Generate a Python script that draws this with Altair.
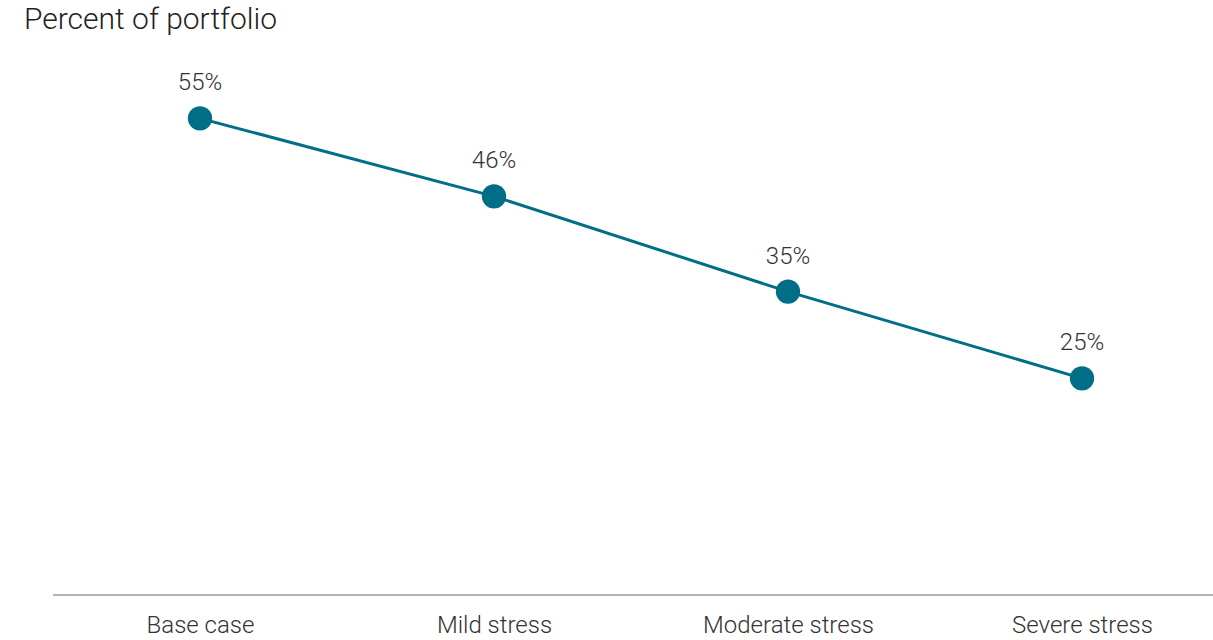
import altair as alt
import pandas as pd

# Share of portfolio under each stress scenario
scenarios = ["Base case", "Mild stress", "Moderate stress", "Severe stress"]
shares = [55, 46, 35, 25]
labels = ["55%", "46%", "35%", "25%"]

df = pd.DataFrame({"scenario": scenarios, "share": shares, "label": labels})

LINE_COLOR = "#006e87"
TEXT_COLOR = "#333333"
FONT = "Roboto"
W, H = 1160, 520

x_enc = alt.X(
    "scenario:N",
    sort=scenarios,
    scale=alt.Scale(type="point", range=[147, 1029], padding=0),
    axis=alt.Axis(
        title=None,
        labelAngle=0,
        labelFontSize=24,
        labelFont=FONT,
        labelFontWeight=300,
        labelColor=TEXT_COLOR,
        labelPadding=18,
        ticks=False,
        domain=False,
        grid=False,
    ),
)
y_enc = alt.Y("share:Q", scale=alt.Scale(domain=[0, 60]), axis=None)

base = alt.Chart(df).encode(x=x_enc, y=y_enc)

# baseline across the full plot width
baseline = alt.Chart(df).mark_rule(color="#b3b3b3", strokeWidth=2).encode(
    x=alt.value(0), x2=alt.value(W), y=alt.value(H)
)
line = base.mark_line(color=LINE_COLOR, strokeWidth=3)
points = base.mark_circle(color=LINE_COLOR, size=590, opacity=1)
text = base.mark_text(
    dy=-35, fontSize=24, font=FONT, fontWeight=300, color=TEXT_COLOR
).encode(text="label:N")

chart = (
    alt.layer(baseline, line, points, text)
    .properties(
        width=W,
        height=H,
        autosize=alt.AutoSizeParams(type="none"),
        padding={"left": 53, "top": 75, "right": 0, "bottom": 45},
        title=alt.TitleParams(
            "Percent of portfolio",
            anchor="start",
            orient="top",
            offset=36,
            dx=-28,
            fontSize=30,
            font=FONT,
            fontWeight=300,
            color="#222222",
        ),
    )
    .configure(background="white")
    .configure_view(stroke="transparent", strokeWidth=0)
)

chart.save("out.html", embed_options={"renderer": "svg", "actions": False})
